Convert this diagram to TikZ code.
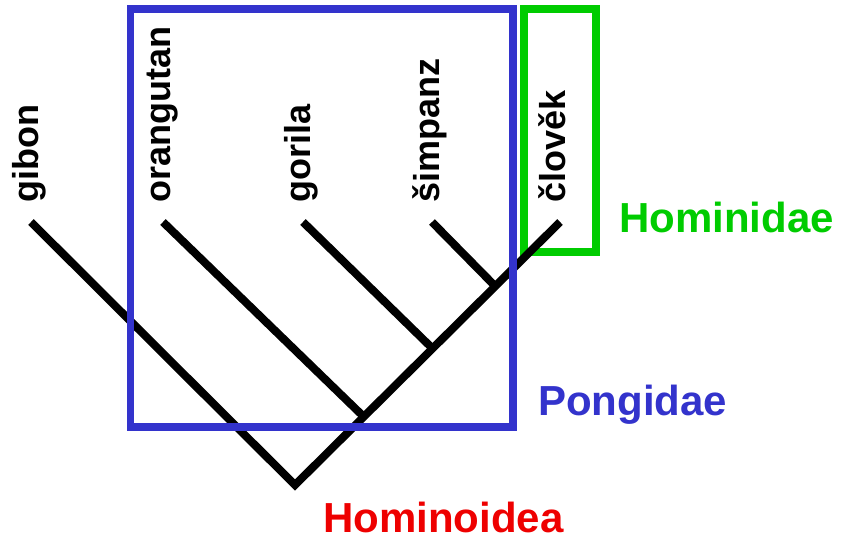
\documentclass[tikz,border=0pt]{standalone}
\usepackage{fontspec}
\setmainfont{Liberation Sans}
\usepackage{tikz}
\usetikzlibrary{positioning}
\definecolor{pongblue}{HTML}{3333CC}
\definecolor{homgreen}{HTML}{00CC00}
\definecolor{homred}{HTML}{EE0000}

\begin{document}
\begin{tikzpicture}[x=1pt,y=-1pt]
	\tikzstyle{species}=[rotate=90, anchor=mid west, inner sep=0pt, font=\fontsize{36}{40}\selectfont\bfseries]
	\tikzstyle{taxon}=[anchor=base west, inner sep=0pt, font=\fontsize{42}{48}\selectfont\bfseries]
	\tikzstyle{branch}=[line width=8pt, black]
	\useasboundingbox (0,0) rectangle (841,540);

	% tips of the tree
	\coordinate (gibontip) at (31,222);
	\coordinate (orangtip) at (163,222);
	\coordinate (goriltip) at (303,222);
	\coordinate (simptip) at (432,222);
	\coordinate (clovtip) at (560,222);
	% root and branching points
	\coordinate (root) at (295,485);
	\coordinate (j1) at (363,416);
	\coordinate (j2) at (432,348);
	\coordinate (j3) at (494,285);

	\node (gibon) [species] at (36,203) {gibon};
	\node (orang) [species] at (168,203) {orangutan};
	\node (gorila) [species] at (308,203) {gorila};
	\node (simpanz) [species] at (437,203) {šimpanz};
	\node (clovek) [species] at (563,203) {člověk};

	\draw [homgreen, line width=8pt] (524,9) rectangle (596,252);

	\draw [branch] (gibontip) -- (root) -- (clovtip);
	\draw [branch] (orangtip) -- (j1);
	\draw [branch] (goriltip) -- (j2);
	\draw [branch] (simptip) -- (j3);

	\draw [pongblue, line width=7.5pt] (130.5,9) rectangle (513,427);

	\node (hominidae) [taxon, homgreen] at (619,233) {Hominidae};
	\node (pongidae) [taxon, pongblue] at (538,415) {Pongidae};
	\node (hominoidea) [taxon, homred] at (323,532) {Hominoidea};
\end{tikzpicture}
\end{document}
